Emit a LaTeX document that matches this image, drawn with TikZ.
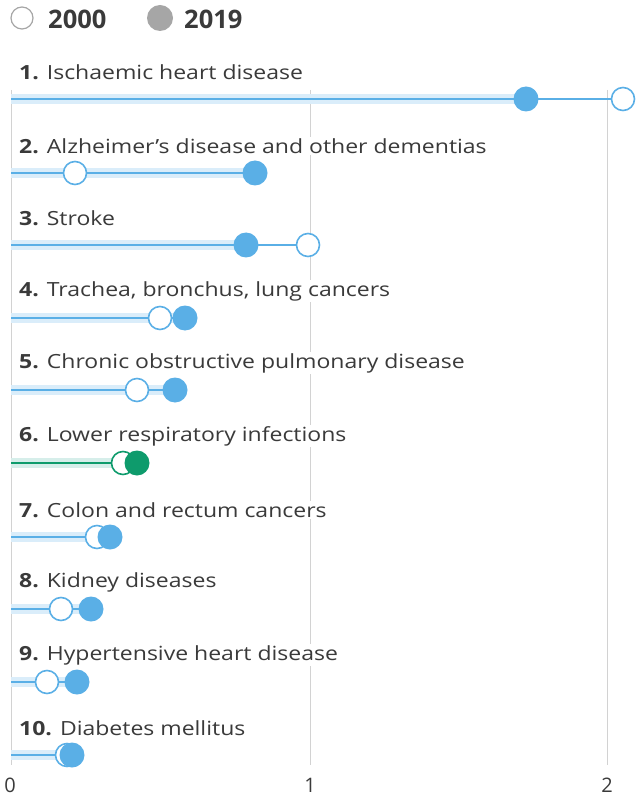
\documentclass[tikz,border=0pt]{standalone}
\usepackage{fontspec}
\setmainfont{Open Sans}
\newfontfamily\lblfont[FakeStretch=1.18]{Open Sans}
\definecolor{txt}{HTML}{3A3A3A}
\definecolor{grid}{HTML}{D2D2D2}
\definecolor{blue}{HTML}{5AAFE6}
\definecolor{band}{HTML}{DAEDFA}
\definecolor{grn}{HTML}{0E9B6C}
\definecolor{gband}{HTML}{D6EEEA}
\definecolor{leg}{HTML}{A6A6A6}
\tikzset{
  lbl/.style={anchor=west, fill=white, inner sep=1pt, text=txt, font=\lblfont\fontsize{19.5}{22}\selectfont},
  opendot/.style={circle, draw=#1, line width=1.6pt, fill=white, minimum size=23pt, inner sep=0pt},
  filldot/.style={circle, fill=#1, minimum size=25pt, inner sep=0pt},
  bandline/.style={#1, line width=10pt},
  thinline/.style={#1, line width=1.6pt},
  gridline/.style={grid, line width=1pt},
  ticklbl/.style={text=txt, font=\fontsize{20}{22}\selectfont},
  legtxt/.style={anchor=west, text=txt, inner sep=0pt, font=\fontsize{25.5}{27}\selectfont\bfseries}
}
\begin{document}
\begin{tikzpicture}[x=1pt,y=-1pt]
\useasboundingbox (0,0) rectangle (635,799);
% legend
\node[opendot=leg, line width=1.2pt, minimum size=22pt] (l0) at (22,18) {};
\node[legtxt] (l0t) at (48,19) {2000};
\node[filldot=leg, minimum size=26pt] (l1) at (160,18) {};
\node[legtxt] (l1t) at (184,19) {2019};
% grid
\coordinate (g0a) at (11,90); \coordinate (g0b) at (11,765);
\coordinate (g1a) at (310,90); \coordinate (g1b) at (310,765);
\coordinate (g2a) at (607,90); \coordinate (g2b) at (607,765);
\draw[gridline] (g0a) -- (g0b);
\draw[gridline] (g1a) -- (g1b);
\draw[gridline] (g2a) -- (g2b);
\node[ticklbl] (t0) at (10,785) {0};
\node[ticklbl] (t1) at (310,785) {1};
\node[ticklbl] (t2) at (607,785) {2};
% rows: index / label / y / open x / filled x / line colour / band colour
\foreach \i/\lab/\yy/\xo/\xf/\lc/\bc in {
  1/Ischaemic heart disease/99/623/526/blue/band,
  2/Alzheimer’s disease and other dementias/173/75/255/blue/band,
  3/Stroke/245/308/246/blue/band,
  4/{Trachea, bronchus, lung cancers}/318/160/185/blue/band,
  5/Chronic obstructive pulmonary disease/390/137/175/blue/band,
  6/Lower respiratory infections/463/123/137/grn/gband,
  7/Colon and rectum cancers/537/97/110/blue/band,
  8/Kidney diseases/609/61/91/blue/band,
  9/Hypertensive heart disease/682/47/77/blue/band,
  10/Diabetes mellitus/755/67/72/blue/band}{
  \node[lbl] (lab\i) at (18,\yy-27) {\textbf{\i.} \lab};
  \coordinate (s\i) at (11,\yy);
  \coordinate (bf\i) at (\xf,\yy);
  \draw[bandline=\bc] (s\i) -- (bf\i);
  \pgfmathsetmacro{\xm}{max(\xo,\xf)}
  \coordinate (e\i) at (\xm,\yy);
  \draw[thinline=\lc] (s\i) -- (e\i);
  \node[opendot=\lc] (o\i) at (\xo,\yy) {};
  \node[filldot=\lc] (f\i) at (\xf,\yy) {};
}
\end{tikzpicture}
\end{document}
